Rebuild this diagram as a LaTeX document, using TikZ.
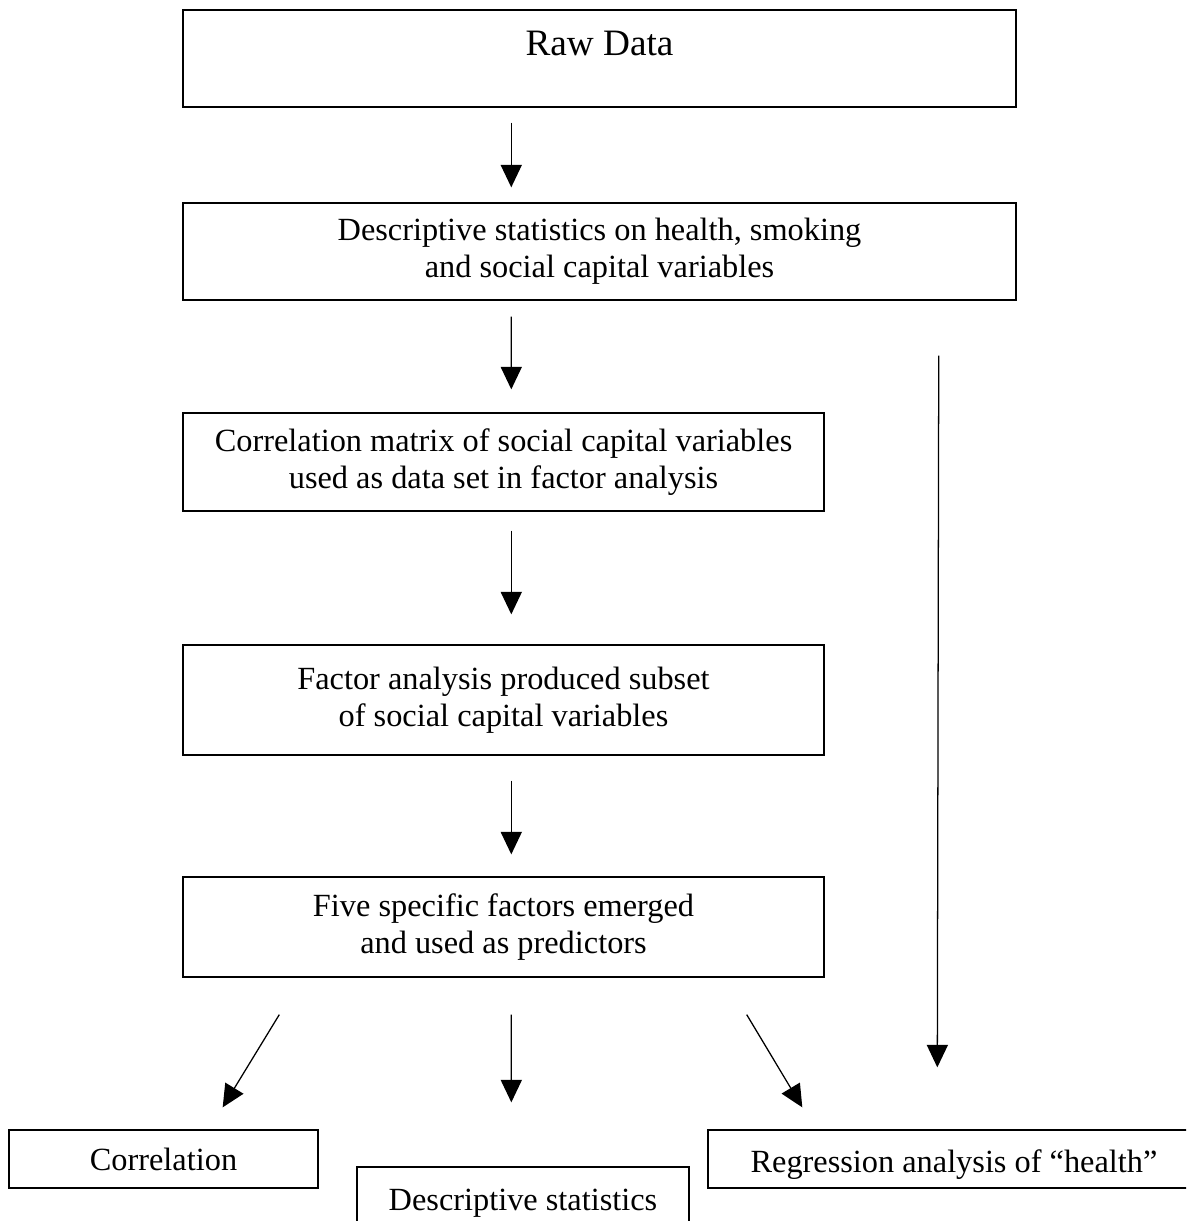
\documentclass[tikz,border=0pt]{standalone}
\usepackage{fontspec}
\setmainfont{Liberation Serif}
\usetikzlibrary{arrows.meta}

\begin{document}
\begin{tikzpicture}[x=0.025cm, y=-0.025cm,  % one unit is one pixel of the scan, y runs down
    box/.style={draw, line width=0.9pt, align=center, inner sep=0pt,
        font=\fontsize{23}{26.3}\selectfont},
    arr/.style={-{Triangle[width=15pt,length=16pt]}, line width=0.9pt}]
    % Fix the page size and cut what runs off it
    \useasboundingbox (0,0) rectangle (1186,1221);
    \clip (0,0) rectangle (1186,1221);

    % Main column of boxes
    \node[box, minimum width=20.825cm, text height=1.15cm, text depth=1.275cm,
        font=\fontsize{26.5}{30}\selectfont] (raw) at (599.5,58.5) {Raw Data};
    \node[box, minimum width=20.825cm, minimum height=2.425cm] (desc) at (599.5,251.5)
        {Descriptive statistics on health, smoking\\and social capital variables};
    \node[box, minimum width=16.025cm, minimum height=2.45cm] (corr) at (503.5,462)
        {Correlation matrix of social capital variables\\used as data set in factor analysis};
    \node[box, minimum width=16.025cm, minimum height=2.75cm] (fact) at (503.5,700)
        {Factor analysis produced subset\\of social capital variables};
    \node[box, minimum width=16.025cm, minimum height=2.5cm] (five) at (503.5,927)
        {Five specific factors emerged\\and used as predictors};

    % Bottom row of boxes
    \node[box, minimum width=7.725cm, minimum height=1.45cm] (corrbox) at (163.5,1159) {Correlation};
    \node[box, minimum width=8.3cm, minimum height=1.625cm, text height=0.72cm, text depth=0.17cm] (dstat) at (523,1199.5) {Descriptive statistics};
    % right edge runs off the page as in the scan
    \node[box, minimum width=12.6cm, minimum height=1.45cm, text height=0.82cm, text depth=0.17cm] (reg) at (960,1159) {\hspace*{-0.3cm}Regression analysis of ``health''};

    % Arrows down the column
    \draw[arr] ([shift={(329,15)}]raw.south west) -- ([shift={(329,-15)}]desc.north west);
    \draw[arr] ([shift={(329,16)}]desc.south west) -- ([shift={(329,-23)}]corr.north west);
    \draw[arr] ([shift={(329,19)}]corr.south west) -- ([shift={(329,-30)}]fact.north west);
    \draw[arr] ([shift={(329,25)}]fact.south west) -- ([shift={(329,-22)}]five.north west);

    % Arrows to the bottom row
    \draw[arr] ([shift={(97,37)}]five.south west) -- ([shift={(-96,-22)}]corrbox.north east);
    \draw[arr] ([shift={(329,37)}]five.south west) -- ([shift={(155,-64)}]dstat.north west);
    \draw[arr] ([shift={(-78,37)}]five.south east) -- ([shift={(95,-22)}]reg.north west);

    % Long arrow on the right
    \draw[arr] ([shift={(-78,55)}]desc.south east) -- ([shift={(230,-62)}]reg.north west);
\end{tikzpicture}
\end{document}
